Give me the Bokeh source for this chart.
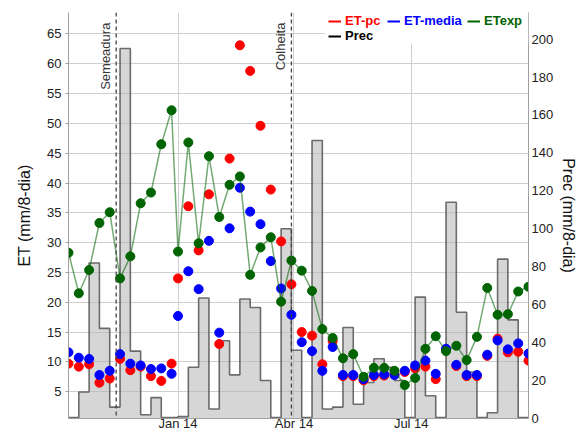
import math
import pandas as pd
from bokeh.plotting import figure
from bokeh.models import (Range1d, LinearAxis, FixedTicker, Legend, LegendItem,
                          Span, BoxAnnotation, ColumnDataSource)
from bokeh.core.properties import value
from bokeh.embed import file_html
from bokeh.resources import INLINE

# ---------------- data ----------------
dates = ["2013-10-08", "2013-10-16", "2013-10-24", "2013-11-01", "2013-11-09",
         "2013-11-17", "2013-11-25", "2013-12-03", "2013-12-11", "2013-12-19",
         "2013-12-27", "2014-01-01", "2014-01-09", "2014-01-17", "2014-01-25",
         "2014-02-02", "2014-02-10", "2014-02-18", "2014-02-26", "2014-03-06",
         "2014-03-14", "2014-03-22", "2014-03-30", "2014-04-07", "2014-04-15",
         "2014-04-23", "2014-05-01", "2014-05-09", "2014-05-17", "2014-05-25",
         "2014-06-02", "2014-06-10", "2014-06-18", "2014-06-26", "2014-07-04",
         "2014-07-12", "2014-07-20", "2014-07-28", "2014-08-05", "2014-08-13",
         "2014-08-21", "2014-08-29", "2014-09-06", "2014-09-14", "2014-09-22",
         "2014-09-30"]

et_pc = [9.7, 9.2, 9.6, 6.5, 7.2, 10.5, 8.6, 9.2, 7.6, 6.8,
         9.7, 24.0, 36.1, 28.7, 38.1, 13.0, 44.1, 63.1, 58.8, 49.6,
         38.9, 30.2, 23.0, 15.0, 14.4, 9.6, 13.5, 7.6, 7.6, 6.9,
         7.6, 7.7, 7.9, 8.3, 8.9, 9.2, 7.1, 12.0, 9.3, 7.6,
         7.6, 11.0, 13.9, 11.6, 11.7, 10.2]

et_media = [11.6, 10.7, 10.5, 7.8, 8.5, 11.3, 9.7, 9.4, 8.8, 8.9,
            8.0, 17.7, 25.2, 22.2, 30.3, 14.9, 32.4, 39.2, 35.2, 33.1,
            26.9, 22.3, 17.9, 13.3, 11.8, 8.5, 12.5, 7.8, 7.8, 7.1,
            7.8, 7.9, 7.8, 8.5, 9.4, 10.2, 8.0, 12.2, 9.5, 7.8,
            7.8, 11.2, 13.6, 12.1, 13.1, 11.4]

et_exp = [28.3, 21.5, 25.4, 33.3, 35.1, 24.0, 27.7, 36.6, 38.4, 46.5,
          52.2, 28.5, 46.8, 29.9, 44.5, 34.3, 39.7, 41.1, 24.6, 29.2,
          30.9, 20.1, 27.0, 25.3, 21.9, 15.5, 14.0, 10.6, 11.3, 7.5,
          9.0, 9.0, 8.5, 6.1, 7.3, 12.2, 14.3, 11.8, 12.7, 10.3,
          14.2, 22.4, 17.9, 18.0, 21.8, 22.6]

prec = [0.5, 14, 82, 47.5, 6, 195, 35.5, 2, 11, 0.5,
        0.5, 1, 27, 63.5, 5, 41, 23, 63, 58.5, 20,
        0.5, 100, 36, 0.5, 146.5, 5, 6, 48, 7.5, 19,
        31.5, 27, 20, 0.5, 64, 12, 0.5, 114, 56, 24.5,
        0.5, 3, 84, 52, 0.5, 0.5]

events = ["2013-11-14", "2014-03-30"]
event_labels = ["Semeadura", "Colheita"]

xtick_dates = ["2014-01-01", "2014-04-01", "2014-07-01"]
xtick_labels = ["Jan 14", "Abr 14", "Jul 14"]
et_ticks = [5, 10, 15, 20, 25, 30, 35, 40, 45, 50, 55, 60, 65]
prec_ticks = [0, 20, 40, 60, 80, 100, 120, 140, 160, 180, 200]

series_names = ["ET-pc", "ET-media", "ETexp", "Prec"]

# ---------------- figure ----------------
FONT = "Liberation Sans"
x = pd.to_datetime(dates)
def ms(s):
    return float(pd.Timestamp(s).value // 10**6)

p = figure(width=581, height=434, x_axis_type="datetime",
           output_backend="svg", toolbar_location=None,
           x_range=Range1d(ms(dates[0]), ms(dates[-1])),
           y_range=Range1d(0.5, 68.6),
           min_border_left=68, min_border_right=53,
           min_border_top=12, min_border_bottom=16)
p.extra_y_ranges = {"prec": Range1d(0, 214)}
p.outline_line_color = None
p.background_fill_color = "white"

# grids
p.xgrid.ticker = FixedTicker(ticks=[ms(d) for d in xtick_dates])
p.ygrid.ticker = FixedTicker(ticks=et_ticks)
for g in (p.xgrid[0], p.ygrid[0]):
    g.grid_line_color = "#cfcfcf"
    g.grid_line_width = 1

# x axis
xa = p.xaxis[0]
xa.ticker = FixedTicker(ticks=[ms(d) for d in xtick_dates])
xa.major_label_overrides = {ms(d): l for d, l in zip(xtick_dates, xtick_labels)}
xa.major_tick_out = 0
xa.major_tick_in = 0
xa.minor_tick_out = 0
xa.minor_tick_in = 0
xa.major_label_standoff = -3
xa.axis_line_color = "#a0a0a0"
xa.major_label_text_font = FONT
xa.major_label_text_font_size = "13px"
xa.major_label_text_color = "#222222"

# left axis
ya = p.yaxis[0]
ya.ticker = FixedTicker(ticks=et_ticks)
ya.axis_label = "ET (mm/8-dia)"
ya.axis_label_text_font = FONT
ya.axis_label_text_font_size = "16px"
ya.axis_label_text_font_style = "normal"
ya.axis_label_text_color = "#111111"
ya.axis_label_standoff = 11
ya.major_tick_out = 3
ya.major_tick_in = 0
ya.minor_tick_out = 0
ya.minor_tick_in = 0
ya.major_label_standoff = 4
ya.axis_line_color = "#a0a0a0"
ya.major_tick_line_color = "#a0a0a0"
ya.major_label_text_font = FONT
ya.major_label_text_font_size = "13px"
ya.major_label_text_color = "#222222"

# right axis
ra = LinearAxis(y_range_name="prec", ticker=FixedTicker(ticks=prec_ticks),
                axis_label="Prec (mm/8-dia)")
ra.axis_label_text_font = FONT
ra.axis_label_text_font_size = "16px"
ra.axis_label_text_font_style = "normal"
ra.axis_label_text_color = "#111111"
ra.axis_label_standoff = 4
ra.major_tick_out = 0
ra.major_tick_in = 0
ra.minor_tick_out = 0
ra.minor_tick_in = 0
ra.major_label_standoff = 3
ra.axis_line_color = "#a0a0a0"
ra.major_label_text_font = FONT
ra.major_label_text_font_size = "13px"
ra.major_label_text_color = "#222222"
p.add_layout(ra, "right")

# precipitation (step area)
p.varea_step(x=x, y1=0, y2=prec, step_mode="after", fill_color="#b4b4b4",
             fill_alpha=0.55, y_range_name="prec")
p.step(x=x, y=prec, mode="after", line_color="#555555", line_width=1.6,
       line_alpha=0.85, y_range_name="prec")

# ET series
p.scatter(x=x, y=et_pc, size=9, fill_color="#ff0000", line_color="#ff0000")
p.scatter(x=x, y=et_media, size=9, fill_color="#0000ff", line_color="#0000ff")
p.line(x=x, y=et_exp, line_color="#006400", line_alpha=0.55, line_width=1.5)
p.scatter(x=x, y=et_exp, size=9, fill_color="#006400", line_color="#006400")

# sowing / harvest lines
for d in events:
    p.add_layout(Span(location=ms(d), dimension="height", line_color="#444444",
                      line_dash="4 3", line_width=1.3))
p.text(x=[ms(d) for d in events], y=[66.9] * len(events), text=event_labels,
       angle=math.pi / 2, text_align="right", text_baseline="bottom",
       x_offset=-3, text_font=value(FONT), text_font_size="13px",
       text_color="#333333")

# legend background
p.add_layout(BoxAnnotation(left=ms("2014-04-25"), right=ms(dates[-1]),
                           bottom=63.4, top=68.6, fill_color="white",
                           fill_alpha=1.0, line_color=None))

leg_colors = ["#ff0000", "#0000ff", "#006400", "#000000"]
leg_pos = [(260, 390), (319, 390), (399, 390), (260, 375)]
for name, c, pos in zip(series_names, leg_colors, leg_pos):
    src = ColumnDataSource(data=dict(x=[ms(dates[0])], y=[float("nan")]))
    r = p.line(x="x", y="y", source=src, line_color=c, line_width=2)
    lg = Legend(items=[LegendItem(label=name, renderers=[r])], location=pos,
                padding=0, margin=0, spacing=0, glyph_width=13, glyph_height=14,
                label_height=14, label_standoff=4, label_text_font=FONT,
                label_text_font_size="13px", label_text_font_style="bold",
                label_text_color=c, background_fill_alpha=0,
                border_line_color=None)
    p.add_layout(lg, "center")

open("out.html", "w").write(file_html(p, INLINE))
